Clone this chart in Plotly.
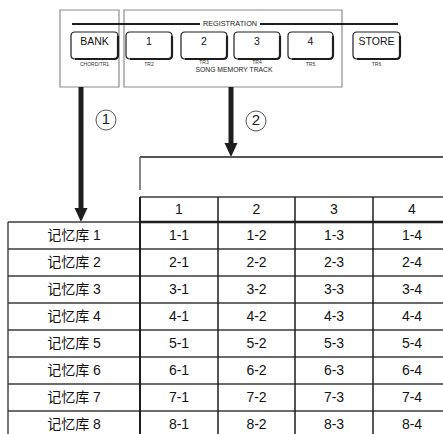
import plotly.graph_objects as go

# ---------------- data ----------------
row_labels = ["记忆库 1", "记忆库 2", "记忆库 3", "记忆库 4",
              "记忆库 5", "记忆库 6", "记忆库 7", "记忆库 8"]
col_labels = ["1", "2", "3", "4"]
cell_values = [
    ["1-1", "1-2", "1-3", "1-4"],
    ["2-1", "2-2", "2-3", "2-4"],
    ["3-1", "3-2", "3-3", "3-4"],
    ["4-1", "4-2", "4-3", "4-4"],
    ["5-1", "5-2", "5-3", "5-4"],
    ["6-1", "6-2", "6-3", "6-4"],
    ["7-1", "7-2", "7-3", "7-4"],
    ["8-1", "8-2", "8-3", "8-4"],
]
button_labels = ["BANK", "1", "2", "3", "4", "STORE"]
track_labels = ["CHORD/TR1", "TR2", "TR3", "TR4", "TR5", "TR6"]
group_title = "REGISTRATION"
group_subtitle = "SONG MEMORY TRACK"
step_labels = ["1", "2"]

# ---------------- geometry ----------------
W, H = 443, 434
btn_x = [(71, 118), (126, 172), (181, 227), (234, 280), (288, 333), (353, 400)]
btn_y = (32, 59)
track_y = [65, 65, 63, 63, 65, 65]
LABEL_X0, LABEL_X1 = 8, 140
col_edges = [140, 218, 295, 373, 451]
HEAD_Y0, HEAD_Y1 = 197, 222
ROW_H = 27

DARK = "#1e1e1e"
GRID = "#3a3a3a"
GRAY = "#8c8c8c"
FONT = "Liberation Sans, Arial, Noto Sans CJK SC, sans-serif"

shapes = []


def line(x0, y0, x1, y1, w=1.4, c=GRID):
    shapes.append(dict(type="line", x0=x0, y0=y0, x1=x1, y1=y1,
                       xref="x", yref="y", line=dict(color=c, width=w)))


# gray group boxes
shapes.append(dict(type="rect", x0=60, y0=10, x1=119, y1=87,
                   line=dict(color=GRAY, width=1.2)))
shapes.append(dict(type="rect", x0=124, y0=10, x1=342, y1=87,
                   line=dict(color=GRAY, width=1.2)))

# registration line
line(72, 24, 200, 24, 1.8, DARK)
line(260, 24, 398, 24, 1.8, DARK)

# buttons (rounded rectangles)
r = 4
y0, y1 = btn_y
for (x0, x1) in btn_x:
    p = (f"M {x0+r},{y0} L {x1-r},{y0} Q {x1},{y0} {x1},{y0+r} "
         f"L {x1},{y1-r} Q {x1},{y1} {x1-r},{y1} L {x0+r},{y1} "
         f"Q {x0},{y1} {x0},{y1-r} L {x0},{y0+r} Q {x0},{y0} {x0+r},{y0} Z")
    shapes.append(dict(type="path", path=p, line=dict(color=DARK, width=1.2)))
    p2 = (f"M {x1},{y0+r} L {x1},{y1-r} Q {x1},{y1} {x1-r},{y1} L {x0+r},{y1}")
    shapes.append(dict(type="path", path=p2, line=dict(color=DARK, width=2.2)))

# arrows
shapes.append(dict(type="rect", x0=78.5, y0=87, x1=83.5, y1=209,
                   fillcolor=DARK, line=dict(width=0)))
shapes.append(dict(type="path", path="M 74.5,208 L 87.5,208 L 81,222 Z",
                   fillcolor=DARK, line=dict(width=0)))
shapes.append(dict(type="rect", x0=228.5, y0=87, x1=233.5, y1=144,
                   fillcolor=DARK, line=dict(width=0)))
shapes.append(dict(type="path", path="M 224.5,143 L 237.5,143 L 231,157 Z",
                   fillcolor=DARK, line=dict(width=0)))

# circled step numbers
step_pos = [(106, 120), (256, 121)]
for (cx, cy) in step_pos:
    shapes.append(dict(type="circle", x0=cx-10, y0=cy-10, x1=cx+10, y1=cy+10,
                       line=dict(color="#444", width=0.9)))

# bracket above table
line(140, 157, 451, 157, 1.8, "#555")
line(140, 157, 140, 190, 1.4, "#555")

# table
n_rows = len(row_labels)
row_edges = [HEAD_Y1 + i * ROW_H for i in range(n_rows + 1)]
line(col_edges[0], HEAD_Y0, col_edges[-1], HEAD_Y0, 1.3, GRID)
for i, ye in enumerate(row_edges[:-1]):
    line(LABEL_X0, ye, col_edges[-1], ye, 1.4, GRID)
line(col_edges[0], HEAD_Y1, col_edges[-1], HEAD_Y1, 2.6, DARK)
line(LABEL_X0, HEAD_Y1, LABEL_X0, 440, 1.4, GRID)
for j, xe in enumerate(col_edges[:-1]):
    line(xe, HEAD_Y0, xe, 440, 2.0 if j == 0 else 1.5, DARK)

fig = go.Figure()

# header text
col_mid = [(col_edges[j] + col_edges[j+1]) / 2 for j in range(len(col_labels))]
fig.add_trace(go.Scatter(
    x=col_mid, y=[(HEAD_Y0 + HEAD_Y1) / 2 + 1] * len(col_labels),
    text=col_labels, mode="text", textposition="middle center",
    textfont=dict(family=FONT, size=14, color="#111"), hoverinfo="skip"))

# row labels
row_mid = [(row_edges[i] + row_edges[i+1]) / 2 + 1 for i in range(n_rows)]
fig.add_trace(go.Scatter(
    x=[(LABEL_X0 + LABEL_X1) / 2] * n_rows, y=row_mid,
    text=row_labels, mode="text", textposition="middle center",
    textfont=dict(family="Liberation Sans, Noto Sans CJK SC, sans-serif",
                  size=14, color="#111"), hoverinfo="skip"))

# cells
xs, ys, ts = [], [], []
for i, row in enumerate(cell_values):
    for j, v in enumerate(row):
        xs.append(col_mid[j]); ys.append(row_mid[i]); ts.append(v)
fig.add_trace(go.Scatter(
    x=xs, y=ys, text=ts, mode="text", textposition="middle center",
    textfont=dict(family=FONT, size=14, color="#111"), hoverinfo="skip"))

# button labels
fig.add_trace(go.Scatter(
    x=[(a + b) / 2 for a, b in btn_x], y=[42] * len(button_labels),
    text=button_labels, mode="text", textposition="middle center",
    textfont=dict(family=FONT, size=10.5, color="#111"), hoverinfo="skip"))

# track labels
fig.add_trace(go.Scatter(
    x=[(a + b) / 2 for a, b in btn_x], y=track_y,
    text=track_labels, mode="text", textposition="middle center",
    textfont=dict(family=FONT, size=5, color="#333"), hoverinfo="skip"))

# group title / subtitle
fig.add_trace(go.Scatter(
    x=[230, 234], y=[24, 70], text=[group_title, group_subtitle],
    mode="text", textposition="middle center",
    textfont=dict(family=FONT, size=[7.3, 6.8], color="#222"), hoverinfo="skip"))

# step numbers
fig.add_trace(go.Scatter(
    x=[p[0] for p in step_pos], y=[p[1] + 0.5 for p in step_pos],
    text=step_labels, mode="text", textposition="middle center",
    textfont=dict(family=FONT, size=15, color="#222"), hoverinfo="skip"))

fig.update_layout(
    width=W, height=H, margin=dict(l=0, r=0, t=0, b=0),
    paper_bgcolor="white", plot_bgcolor="white", showlegend=False,
    shapes=shapes,
    xaxis=dict(range=[0, W], visible=False, fixedrange=True),
    yaxis=dict(range=[H, 0], visible=False, fixedrange=True),
)

fig.write_html("out.html",
               config={"displayModeBar": False, "staticPlot": True},
               post_script="document.body.style.margin='0px';"
                           "document.body.style.overflow='hidden';")
